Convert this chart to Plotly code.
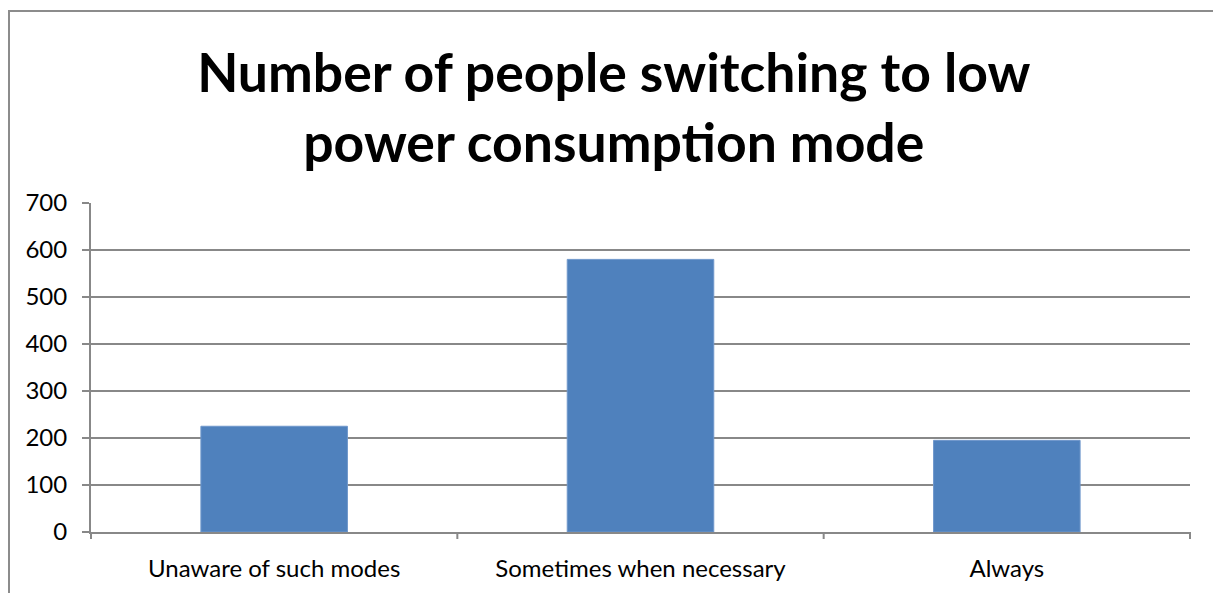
import plotly.graph_objects as go

categories = ["Unaware of such modes", "Sometimes when necessary", "Always"]
values = [225, 580, 195]
y_ticks = [0, 100, 200, 300, 400, 500, 600, 700]

W, H = 1213, 593
L, R, T, B = 91, 23, 203, 61
pw, ph = W - L - R, H - T - B

def px_x(x):
    return (x - L) / pw

def px_y(y):
    return (H - B - y) / ph

fig = go.Figure()
fig.add_trace(go.Bar(
    x=categories, y=values,
    marker=dict(color="#4F81BD", line=dict(color="#6F97CB", width=1)),
    width=0.4,
))

fig.update_layout(
    width=W, height=H,
    margin=dict(l=L, r=R, t=T, b=B),
    paper_bgcolor="white", plot_bgcolor="white",
    showlegend=False,
    font=dict(family="Lato, Carlito, Calibri, sans-serif", color="black", size=24),
    title=dict(
        text="<b>Number of people switching to low<br>power consumption mode</b>",
        x=0.506, xanchor="center", xref="container",
        y=(H - 92) / H, yanchor="middle", yref="container",
        font=dict(family="Lato, Carlito, Calibri, sans-serif", size=53.5, color="black"),
    ),
    xaxis=dict(
        showline=True, linecolor="#888888", linewidth=2,
        ticks="", tickfont=dict(size=24), showgrid=False, ticklabelstandoff=14,
    ),
    yaxis=dict(
        range=[0, 700], tickvals=y_ticks, showline=True, linecolor="#888888", linewidth=2,
        ticks="outside", ticklen=7, tickcolor="#888888", tickwidth=2,
        showgrid=True, gridcolor="#888888", gridwidth=1.5, zeroline=False,
        tickfont=dict(size=24), ticklabelstandoff=10,
    ),
)

# category boundary tick marks on x axis
for i in range(len(categories) + 1):
    xv = i / len(categories)
    fig.add_shape(type="line", xref="paper", yref="paper",
                  x0=xv, x1=xv, y0=0, y1=px_y(H - B + 7),
                  line=dict(color="#888888", width=2))

# outer chart frame
fig.add_shape(type="rect", xref="paper", yref="paper",
              x0=px_x(9), x1=px_x(1230), y0=px_y(11), y1=px_y(610),
              line=dict(color="#8c8c8c", width=2), fillcolor="rgba(0,0,0,0)", layer="below")

fig.write_html("out.html")
